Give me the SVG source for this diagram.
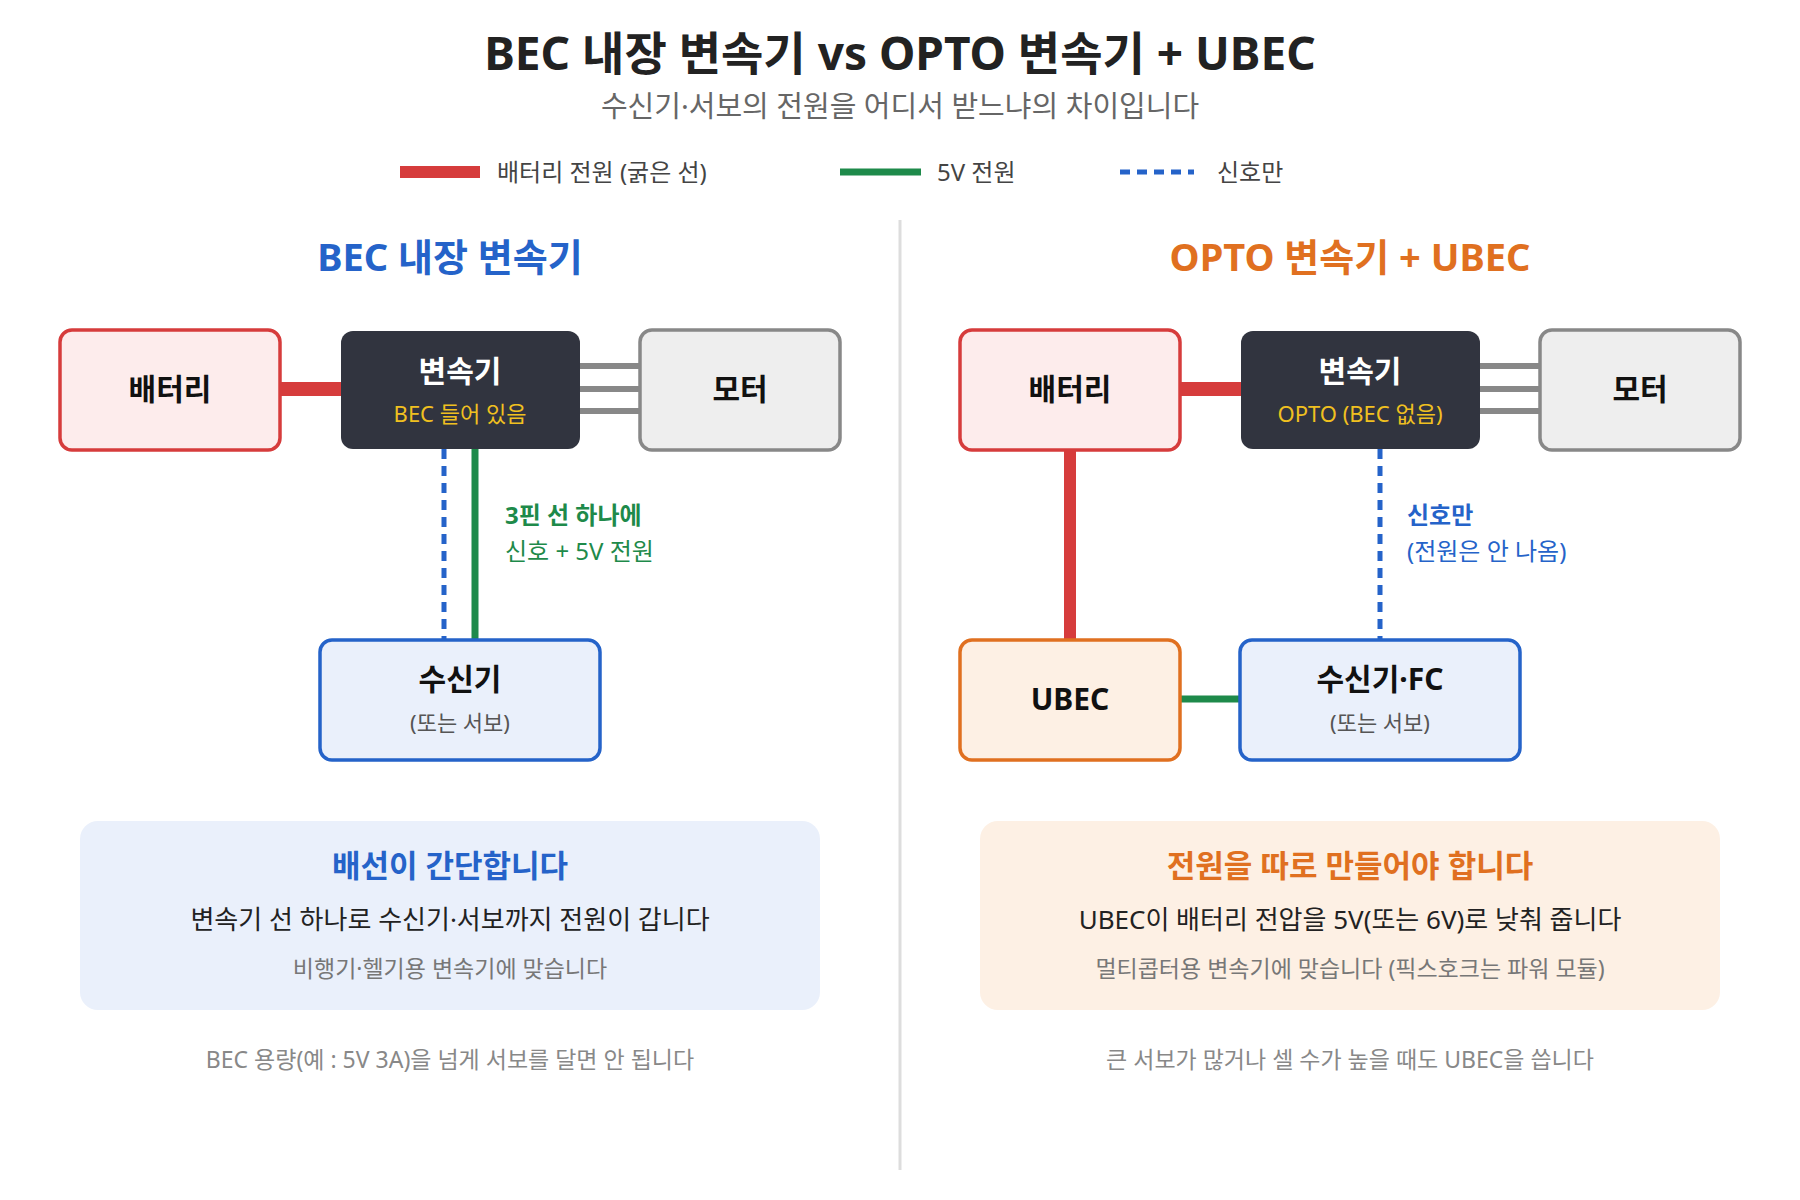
<svg xmlns="http://www.w3.org/2000/svg" width="1800" height="1200" viewBox="0 0 1800 1200">
<style>
text{font-family:"Noto Sans","Noto Sans CJK KR",sans-serif;text-anchor:middle}
.b{font-weight:700}
.nt{font-size:30px;font-weight:700;fill:#111}
.sub{font-size:22px;fill:#555}
.lg{font-size:24px;fill:#444;text-anchor:start}
.lab{font-size:24px;text-anchor:start}
</style>
<rect width="1800" height="1200" fill="#fff"/>
<text x="900" y="70" class="b" font-size="46" fill="#222">BEC 내장 변속기 vs OPTO 변속기 + UBEC</text>
<text x="900" y="117" font-size="29" fill="#666">수신기·서보의 전원을 어디서 받느냐의 차이입니다</text>
<g id="legend">
<line x1="400" y1="172" x2="480" y2="172" stroke="#d63c3c" stroke-width="12"/>
<text x="497" y="181" class="lg">배터리 전원 (굵은 선)</text>
<line x1="840" y1="172" x2="921" y2="172" stroke="#1e8a4a" stroke-width="7"/>
<text x="937" y="181" class="lg">5V 전원</text>
<line x1="1120" y1="172" x2="1194" y2="172" stroke="#2563c9" stroke-width="5" stroke-dasharray="10,7"/>
<text x="1217" y="181" class="lg">신호만</text>
</g>
<line x1="900" y1="220" x2="900" y2="1170" stroke="#ddd" stroke-width="3"/>
<text x="450" y="271" class="b" font-size="38" fill="#2563c9">BEC 내장 변속기</text>
<text x="1350" y="271" class="b" font-size="38" fill="#e07020">OPTO 변속기 + UBEC</text>
<g id="connectors">
<line x1="280" y1="389" x2="341" y2="389" stroke="#d63c3c" stroke-width="14"/>
<g stroke="#888" stroke-width="6"><line x1="580" y1="366" x2="639" y2="366"/><line x1="580" y1="389" x2="639" y2="389"/><line x1="580" y1="411" x2="639" y2="411"/></g>
<line x1="444" y1="449" x2="444" y2="639" stroke="#2563c9" stroke-width="5" stroke-dasharray="10,7"/>
<line x1="475" y1="449" x2="475" y2="639" stroke="#1e8a4a" stroke-width="7"/>
<line x1="1180" y1="389" x2="1241" y2="389" stroke="#d63c3c" stroke-width="14"/>
<g stroke="#888" stroke-width="6"><line x1="1480" y1="366" x2="1540" y2="366"/><line x1="1480" y1="389" x2="1540" y2="389"/><line x1="1480" y1="411" x2="1540" y2="411"/></g>
<line x1="1070" y1="450" x2="1070" y2="639" stroke="#d63c3c" stroke-width="12"/>
<line x1="1180" y1="699" x2="1240" y2="699" stroke="#1e8a4a" stroke-width="7"/>
<line x1="1380" y1="449" x2="1380" y2="639" stroke="#2563c9" stroke-width="5" stroke-dasharray="10,7"/>
<text x="505" y="524" class="lab b" fill="#1e8a4a">3핀 선 하나에</text>
<text x="505" y="560" class="lab" fill="#1e8a4a">신호 + 5V 전원</text>
<text x="1407" y="524" class="lab b" fill="#2563c9">신호만</text>
<text x="1407" y="560" class="lab" fill="#2563c9">(전원은 안 나옴)</text>
</g>
<g id="battery1"><rect x="60" y="330" width="220" height="120" rx="12" fill="#fdecec" stroke="#d63c3c" stroke-width="3.5"/><text x="170" y="400" class="nt">배터리</text></g>
<g id="esc1"><rect x="341" y="331" width="239" height="118" rx="12" fill="#31343f"/><text x="460" y="382" class="nt" fill="#fff" style="fill:#fff">변속기</text><text x="460" y="422" font-size="22" fill="#f0c020">BEC 들어 있음</text></g>
<g id="motor1"><rect x="640" y="330" width="200" height="120" rx="12" fill="#eee" stroke="#888" stroke-width="3.5"/><text x="740" y="400" class="nt">모터</text></g>
<g id="rx1"><rect x="320" y="640" width="280" height="120" rx="12" fill="#eaf0fb" stroke="#2563c9" stroke-width="3.5"/><text x="460" y="690" class="nt">수신기</text><text x="460" y="731" class="sub">(또는 서보)</text></g>
<g id="battery2"><rect x="960" y="330" width="220" height="120" rx="12" fill="#fdecec" stroke="#d63c3c" stroke-width="3.5"/><text x="1070" y="400" class="nt">배터리</text></g>
<g id="esc2"><rect x="1241" y="331" width="239" height="118" rx="12" fill="#31343f"/><text x="1360" y="382" class="nt" style="fill:#fff">변속기</text><text x="1360" y="422" font-size="22" fill="#f0c020">OPTO (BEC 없음)</text></g>
<g id="motor2"><rect x="1540" y="330" width="200" height="120" rx="12" fill="#eee" stroke="#888" stroke-width="3.5"/><text x="1640" y="400" class="nt">모터</text></g>
<g id="ubec"><rect x="960" y="640" width="220" height="120" rx="12" fill="#fdf0e4" stroke="#e07020" stroke-width="3.5"/><text x="1070" y="710" class="nt">UBEC</text></g>
<g id="rx2"><rect x="1240" y="640" width="280" height="120" rx="12" fill="#eaf0fb" stroke="#2563c9" stroke-width="3.5"/><text x="1380" y="690" class="nt">수신기·FC</text><text x="1380" y="731" class="sub">(또는 서보)</text></g>
<g id="info1"><rect x="80" y="821" width="740" height="189" rx="18" fill="#eaf0fb"/><text x="450" y="877" class="b" font-size="31" fill="#2563c9">배선이 간단합니다</text><text x="450" y="929" font-size="26" fill="#222">변속기 선 하나로 수신기·서보까지 전원이 갑니다</text><text x="450" y="977" font-size="23" fill="#777">비행기·헬기용 변속기에 맞습니다</text></g>
<g id="info2"><rect x="980" y="821" width="740" height="189" rx="18" fill="#fdf0e4"/><text x="1350" y="877" class="b" font-size="31" fill="#e07020">전원을 따로 만들어야 합니다</text><text x="1350" y="929" font-size="26" fill="#222">UBEC이 배터리 전압을 5V(또는 6V)로 낮춰 줍니다</text><text x="1350" y="977" font-size="23" fill="#777">멀티콥터용 변속기에 맞습니다 (픽스호크는 파워 모듈)</text></g>
<text x="450" y="1068" font-size="23" fill="#888">BEC 용량(예 : 5V 3A)을 넘게 서보를 달면 안 됩니다</text>
<text x="1350" y="1068" font-size="23" fill="#888">큰 서보가 많거나 셀 수가 높을 때도 UBEC을 씁니다</text>
</svg>
